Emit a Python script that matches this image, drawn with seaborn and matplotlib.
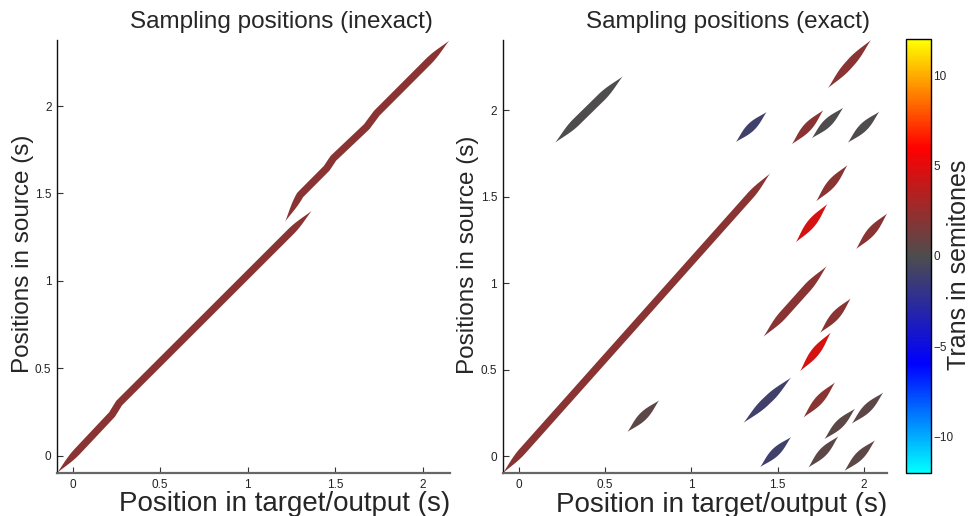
import numpy as np
import matplotlib
matplotlib.use("Agg")
import matplotlib.pyplot as plt
import seaborn as sns
from matplotlib.colors import Normalize
from matplotlib.cm import ScalarMappable
from matplotlib.ticker import FixedLocator, FuncFormatter

# ---------------------------------------------------------------------------
# Data: sampling positions (target/output time vs. source time, seconds)
# ---------------------------------------------------------------------------

# Inexact resampling: the source read-head path, in two pieces
inexact_a_target = [-0.09, 0.225, 0.265, 1.367]
inexact_a_source = [-0.10, 0.235, 0.300, 1.401]
inexact_b_target = [1.214, 1.300, 1.452, 1.490, 1.681, 1.738, 2.153]
inexact_b_source = [1.338, 1.491, 1.644, 1.701, 1.882, 1.959, 2.375]
inexact_semitones = 2.0

# Exact resampling: one grain per entry
grain_target_start = [-0.095, 0.209, 1.258, 1.583, 1.699, 1.908, 1.792, 1.724,
                      1.606, 1.956, 1.418, 1.747, 1.631, 1.302, 1.650, 0.629,
                      1.772, 1.931, 1.399, 1.679, 1.888]
grain_target_end = [1.457, 0.602, 1.437, 1.766, 1.882, 2.091, 2.043, 1.906,
                    1.789, 2.137, 1.786, 1.925, 1.809, 1.579, 1.834, 0.813,
                    1.950, 2.114, 1.579, 1.853, 2.066]
grain_source_start = [-0.100, 1.811, 1.815, 1.802, 1.837, 1.811, 2.126, 1.472,
                      1.235, 1.196, 0.689, 0.712, 0.490, 0.191, 0.222, 0.139,
                      0.097, 0.187, -0.064, -0.067, -0.087]
grain_source_end = [1.634, 2.195, 1.989, 2.000, 2.014, 1.991, 2.406, 1.682,
                    1.457, 1.403, 1.098, 0.911, 0.714, 0.454, 0.426, 0.322,
                    0.274, 0.367, 0.110, 0.114, 0.091]
grain_semitones = [2.0, 0.0, -1.0, 2.0, 0.0, 0.0, 2.0, 2.0,
                   4.5, 2.0, 2.0, 2.0, 4.5, -1.0, 2.0, 0.5,
                   0.5, 0.5, -1.0, 0.5, 0.5]

tick_values = [0, 0.5, 1, 1.5, 2]
cbar_ticks = [-10, -5, 0, 5, 10]
trans_range = (-12, 12)

# ---------------------------------------------------------------------------
# Style
# ---------------------------------------------------------------------------
sns.set_theme(style="ticks")
plt.rcParams["font.family"] = ["Liberation Sans", "DejaVu Sans"]

cmap = sns.blend_palette(["#00ffff", "#0000ff", "#4d4d4d", "#ff0000", "#ffff00"],
                         as_cmap=True)
norm = Normalize(*trans_range)

MAIN_WIDTH_PX = 7.3
GRAIN_WIDTH_PX = 8.3
TAPER_PX = 30.0
TAPER_POWER = 1.25

fig = plt.figure(figsize=(9.71, 5.16), dpi=100)
W, H = 971.0, 516.0


def axes_px(x0, y0, x1, y1):
    """Axes rectangle from pixel corners (top-left origin)."""
    return [x0 / W, (H - y1) / H, (x1 - x0) / W, (y1 - y0) / H]


ax_l = fig.add_axes(axes_px(57, 40, 450, 473))
ax_r = fig.add_axes(axes_px(502.7, 40, 887.3, 473.3))
cax = fig.add_axes(axes_px(905.7, 39.3, 930.7, 472.7))

ax_l.set_xlim(-0.09, 2.157)
ax_l.set_ylim(-0.10, 2.378)
ax_r.set_xlim(-0.095, 2.137)
ax_r.set_ylim(-0.10, 2.405)


def stroke(ax, xs, ys, width_px, color):
    """Fill a tapered, variable-width stroke along a path given in data units."""
    pts = ax.transData.transform(np.column_stack([xs, ys]))
    seg = np.diff(pts, axis=0)
    cum = np.concatenate([[0.0], np.cumsum(np.hypot(seg[:, 0], seg[:, 1]))])
    total = cum[-1]
    s = np.linspace(0.0, total, max(int(total * 2), 40))
    px = np.interp(s, cum, pts[:, 0])
    py = np.interp(s, cum, pts[:, 1])
    tx, ty = np.gradient(px), np.gradient(py)
    k = np.ones(15) / 15.0
    txs = np.convolve(np.pad(tx, 7, mode="edge"), k, mode="valid")
    tys = np.convolve(np.pad(ty, 7, mode="edge"), k, mode="valid")
    nrm = np.hypot(txs, tys)
    nx, ny = -tys / nrm, txs / nrm
    taper = min(total / 2.0, TAPER_PX)
    d = np.minimum(s, total - s)
    prof = np.sin(0.5 * np.pi * np.clip(d / taper, 0, 1)) ** TAPER_POWER
    half = 0.5 * width_px * prof
    upper = np.column_stack([px + nx * half, py + ny * half])
    lower = np.column_stack([px - nx * half, py - ny * half])
    poly = ax.transData.inverted().transform(np.vstack([upper, lower[::-1]]))
    ax.fill(poly[:, 0], poly[:, 1], color=color, lw=0, antialiased=True)


# Left: inexact
for xs, ys in [(inexact_a_target, inexact_a_source),
               (inexact_b_target, inexact_b_source)]:
    stroke(ax_l, xs, ys, MAIN_WIDTH_PX, cmap(norm(inexact_semitones)))

# Right: exact grains
for i, (t0, t1, s0, s1, st) in enumerate(zip(grain_target_start, grain_target_end,
                                             grain_source_start, grain_source_end,
                                             grain_semitones)):
    w = MAIN_WIDTH_PX if i == 0 else GRAIN_WIDTH_PX
    stroke(ax_r, [t0, t1], [s0, s1], w, cmap(norm(st)))

fmt = FuncFormatter(lambda v, p: f"{v:g}")
for ax in (ax_l, ax_r):
    sns.despine(ax=ax)
    ax.xaxis.set_major_locator(FixedLocator(tick_values))
    ax.yaxis.set_major_locator(FixedLocator(tick_values))
    ax.xaxis.set_major_formatter(fmt)
    ax.yaxis.set_major_formatter(fmt)
    ax.tick_params(direction="in", length=4, width=0.8, color="#333333",
                   labelsize=8.5, pad=4, labelcolor="#222222")
    ax.spines["left"].set_color("#111111")
    ax.spines["left"].set_linewidth(1.0)
    ax.spines["bottom"].set_color("#666666")
    ax.spines["bottom"].set_linewidth(1.6)
    ax.set_facecolor("white")

ax_l.set_title("Sampling positions (inexact)", fontsize=17.5, x=0.570, y=1.028,
               pad=0, va="baseline")
ax_r.set_title("Sampling positions (exact)", fontsize=17.5, x=0.587, y=1.028,
               pad=0, va="baseline")

ax_l.set_xlabel("Position in target/output (s)", fontsize=20, va="baseline")
ax_l.xaxis.set_label_coords(0.580, -0.088)
ax_r.set_xlabel("Position in target/output (s)", fontsize=20, va="baseline")
ax_r.xaxis.set_label_coords(0.569, -0.089)

ax_l.set_ylabel("Positions in source (s)", fontsize=17.5, va="center")
ax_l.yaxis.set_label_coords(-0.087, 0.507)
ax_r.set_ylabel("Positions in source (s)", fontsize=17.5, va="center")
ax_r.yaxis.set_label_coords(-0.090, 0.504)

# Colorbar
cb = fig.colorbar(ScalarMappable(norm=norm, cmap=cmap), cax=cax)
cb.set_ticks(cbar_ticks)
cb.outline.set_edgecolor("black")
cb.outline.set_linewidth(1.0)
cax.yaxis.set_ticks_position("both")
cax.tick_params(direction="in", length=4, width=0.8, color="#333333",
                labelsize=8.5, pad=2, labelright=True, labelleft=False)
cb.set_label("Trans in semitones", fontsize=18, va="center")
cax.yaxis.set_label_coords(2.15, 0.48)

fig.savefig("out.png", dpi=100, facecolor="white")
